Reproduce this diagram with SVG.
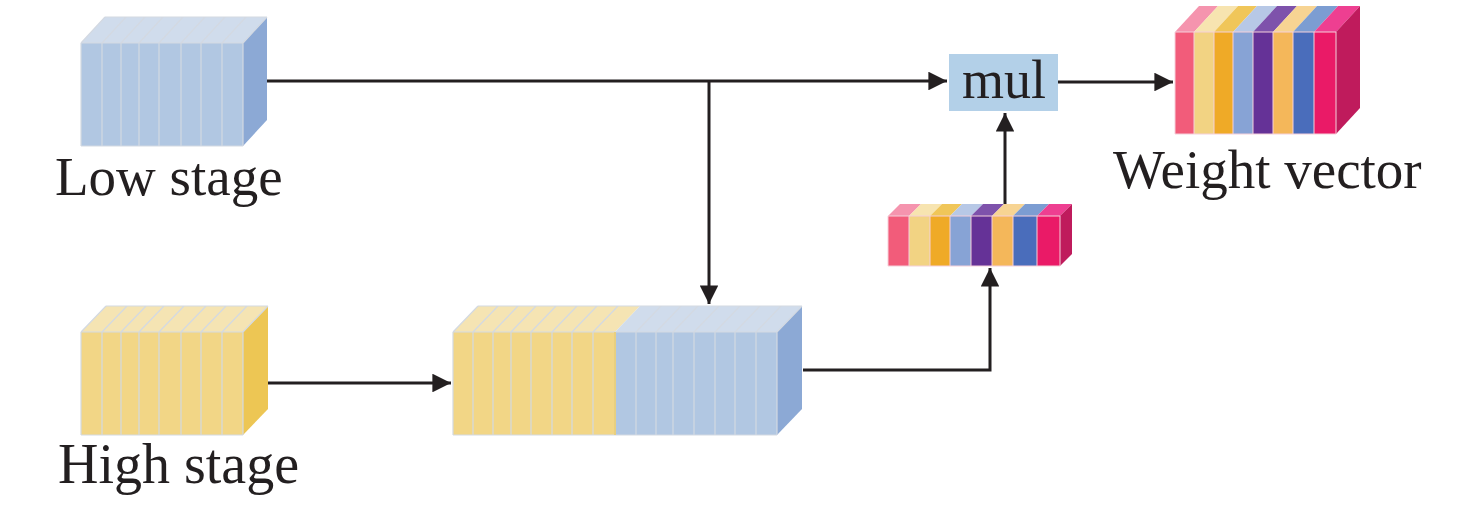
<svg xmlns="http://www.w3.org/2000/svg" width="1476" height="508" viewBox="0 0 1476 508">
<defs>
<style>
.lbl{font-family:"Liberation Serif","Times New Roman",serif;font-size:55px;fill:#231F20}
.sl{stroke:#D3D9E2;stroke-width:1.2;fill:none}
.sc{stroke:#F5D0DA;stroke-width:1;fill:none}
.ln{stroke:#231F20;stroke-width:3;fill:none}
.bf{fill:#B1C7E2}.bt{fill:#D0DCEC}.bs{fill:#8CA9D5}
.yf{fill:#F2D686}.yt{fill:#F5E4B3}.ys{fill:#EDC654}
</style>
<marker id="ah" viewBox="0 0 10 10" refX="10" refY="5" markerWidth="6.2" markerHeight="6.2" markerUnits="strokeWidth" orient="auto">
<path d="M0,0 L10,5 L0,10 Z" fill="#231F20"/>
</marker>
</defs>

<g id="connectors">
<path class="ln" d="M267,81 H947" marker-end="url(#ah)"/>
<path class="ln" d="M709,81 V304" marker-end="url(#ah)"/>
<path class="ln" d="M268,383 H451" marker-end="url(#ah)"/>
<path class="ln" d="M803,370 H990 V268" marker-end="url(#ah)"/>
<path class="ln" d="M1005,204 V113" marker-end="url(#ah)"/>
<path class="ln" d="M1058,82 H1173" marker-end="url(#ah)"/>
</g>

<g id="low-stage">
<polygon class="bt" points="81,43 243,43 267,17 105,17"/>
<polygon class="bs" points="243,43 267,17 267,120 243,146"/>
<rect class="bf" x="81" y="43" width="162" height="103"/>
<path class="sl" d="M81,43 H243 M81,146 H243 M81,43 V146 M102,43 V146 M121,43 V146 M139,43 V146 M159,43 V146 M181,43 V146 M201,43 V146 M222,43 V146 M243,43 V146 M81,43 L105,17 M102,43 L126,17 M121,43 L145,17 M139,43 L163,17 M159,43 L183,17 M181,43 L205,17 M201,43 L225,17 M222,43 L246,17 M243,43 L267,17 M105,17 H267"/>
<text class="lbl" x="55" y="195">Low stage</text>
</g>

<g id="high-stage">
<polygon class="yt" points="81,332 243,332 268,306 106,306"/>
<polygon class="ys" points="243,332 268,306 268,409 243,435"/>
<rect class="yf" x="81" y="332" width="162" height="103"/>
<path class="sl" d="M81,332 H243 M81,435 H243 M81,332 V435 M102,332 V435 M121,332 V435 M139,332 V435 M159,332 V435 M181,332 V435 M201,332 V435 M222,332 V435 M243,332 V435 M81,332 L106,306 M102,332 L127,306 M121,332 L146,306 M139,332 L164,306 M159,332 L184,306 M181,332 L206,306 M201,332 L226,306 M222,332 L247,306 M243,332 L268,306 M106,306 H268"/>
<text class="lbl" x="58" y="483" style="font-size:56px">High stage</text>
</g>

<g id="concat">
<polygon class="yt" points="453,332 615,332 640,306 478,306"/>
<polygon class="bt" points="615,332 777,332 802,306 640,306"/>
<polygon class="bs" points="777,332 802,306 802,409 777,435"/>
<rect class="yf" x="453" y="332" width="162" height="103"/>
<rect class="bf" x="615" y="332" width="162" height="103"/>
<path class="sl" d="M453,332 H777 M453,435 H777 M478,306 H802 M453,332 V435 M473,332 V435 M493,332 V435 M511,332 V435 M531,332 V435 M552,332 V435 M572,332 V435 M593,332 V435 M636,332 V435 M656,332 V435 M673,332 V435 M694,332 V435 M715,332 V435 M735,332 V435 M756,332 V435 M777,332 V435 M453,332 L478,306 M473,332 L498,306 M493,332 L518,306 M511,332 L536,306 M531,332 L556,306 M552,332 L577,306 M572,332 L597,306 M593,332 L618,306 M636,332 L661,306 M656,332 L681,306 M673,332 L698,306 M694,332 L719,306 M715,332 L740,306 M735,332 L760,306 M756,332 L781,306 M777,332 L802,306"/>
<line x1="615" y1="332" x2="615" y2="435" stroke="#E8CF80" stroke-width="2"/>
</g>

<g id="mul">
<rect x="949" y="54" width="109" height="57" fill="#B3D0E8"/>
<text class="lbl" x="1004" y="98" text-anchor="middle" style="font-size:54px">mul</text>
</g>

<g id="small-vector">
<polygon points="888,216 909,216 921,204 900,204" fill="#F594AE"/>
<polygon points="909,216 930,216 942,204 921,204" fill="#F7E4B0"/>
<polygon points="930,216 950,216 962,204 942,204" fill="#F0C659"/>
<polygon points="950,216 971,216 983,204 962,204" fill="#B7C8E6"/>
<polygon points="971,216 992,216 1004,204 983,204" fill="#7E52AB"/>
<polygon points="992,216 1013,216 1025,204 1004,204" fill="#F7D493"/>
<polygon points="1013,216 1037,216 1049,204 1025,204" fill="#7C9DD2"/>
<polygon points="1037,216 1060,216 1072,204 1049,204" fill="#EE3F91"/>
<polygon points="1060,216 1072,204 1072,254 1060,266" fill="#BF1B5C"/>
<rect x="888" y="216" width="21" height="50" fill="#F25C7A"/>
<rect x="909" y="216" width="21" height="50" fill="#F2D383"/>
<rect x="930" y="216" width="20" height="50" fill="#EFAA27"/>
<rect x="950" y="216" width="21" height="50" fill="#87A3D5"/>
<rect x="971" y="216" width="21" height="50" fill="#653297"/>
<rect x="992" y="216" width="21" height="50" fill="#F4B75A"/>
<rect x="1013" y="216" width="24" height="50" fill="#4A6DBB"/>
<rect x="1037" y="216" width="23" height="50" fill="#EA1A67"/>
<path class="sc" d="M888,216 H1060 V266 H888 Z M909,216 V266 M930,216 V266 M950,216 V266 M971,216 V266 M992,216 V266 M1013,216 V266 M1037,216 V266"/>
</g>

<g id="weight-vector">
<polygon points="1175,32 1194,32 1218,6 1199,6" fill="#F594AE"/>
<polygon points="1194,32 1214,32 1238,6 1218,6" fill="#F7E4B0"/>
<polygon points="1214,32 1233,32 1257,6 1238,6" fill="#F0C659"/>
<polygon points="1233,32 1253,32 1277,6 1257,6" fill="#B7C8E6"/>
<polygon points="1253,32 1273,32 1297,6 1277,6" fill="#7E52AB"/>
<polygon points="1273,32 1293,32 1317,6 1297,6" fill="#F7D493"/>
<polygon points="1293,32 1314,32 1338,6 1317,6" fill="#7C9DD2"/>
<polygon points="1314,32 1336,32 1360,6 1338,6" fill="#EE3F91"/>
<polygon points="1336,32 1360,6 1360,108 1336,134" fill="#BF1B5C"/>
<rect x="1175" y="32" width="19" height="102" fill="#F25C7A"/>
<rect x="1194" y="32" width="20" height="102" fill="#F2D383"/>
<rect x="1214" y="32" width="19" height="102" fill="#EFAA27"/>
<rect x="1233" y="32" width="20" height="102" fill="#87A3D5"/>
<rect x="1253" y="32" width="20" height="102" fill="#653297"/>
<rect x="1273" y="32" width="20" height="102" fill="#F4B75A"/>
<rect x="1293" y="32" width="21" height="102" fill="#4A6DBB"/>
<rect x="1314" y="32" width="22" height="102" fill="#EA1A67"/>
<path class="sc" d="M1175,32 H1336 V134 H1175 Z M1194,32 V134 M1214,32 V134 M1233,32 V134 M1253,32 V134 M1273,32 V134 M1293,32 V134 M1314,32 V134"/>
<text class="lbl" x="1113" y="188">Weight vector</text>
</g>
</svg>
